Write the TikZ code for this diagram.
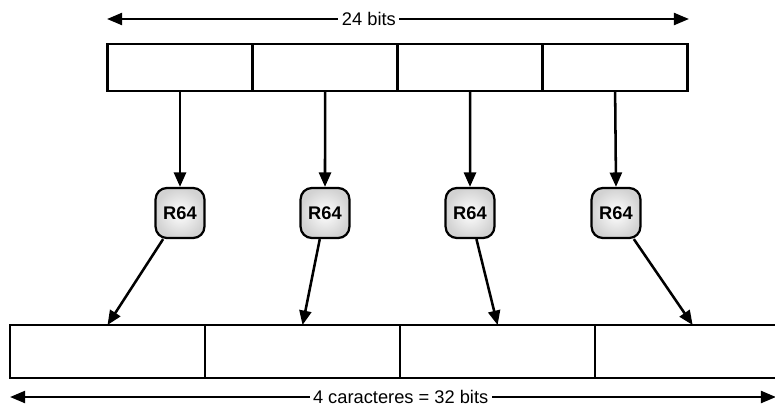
\documentclass[tikz,border=0pt]{standalone}
\usepackage{fontspec}
\setmainfont{Liberation Sans}
\usepackage{tikz}
\usetikzlibrary{arrows.meta,positioning,shadings}

\begin{document}
\begin{tikzpicture}[
    x=0.025cm,y=-0.025cm,
    every node/.style={font=\fontsize{13}{15}\selectfont},
    inbox/.style={draw,line width=1.8pt,minimum width=3.625cm,minimum height=1.175cm,outer sep=0pt,inner sep=0pt},
    outbox/.style={draw,line width=1.8pt,minimum width=4.875cm,minimum height=1.325cm,outer sep=0pt,inner sep=0pt},
    rbox/.style={draw,line width=1.6pt,rounded corners=8pt,minimum width=1.22cm,minimum height=1.25cm,
                 inner color=white,outer color=gray!35,font=\fontsize{13}{15}\selectfont\bfseries},
    arr/.style={-{Triangle[length=3.6mm,width=3mm]},line width=1.8pt},
    dim/.style={{Triangle[length=3.8mm,width=3mm]}-{Triangle[length=3.8mm,width=3mm]},line width=1.8pt},
    lbl/.style={fill=white,inner sep=2.5pt}
]
\useasboundingbox (0,0) rectangle (775,410);

% Row 1: the 24 input bits
\node[inbox] (t1) at (180,67.5) {};
\node[inbox,right=0pt of t1] (t2) {};
\node[inbox,right=0pt of t2] (t3) {};
\node[inbox,right=0pt of t3] (t4) {};

% Row 2: the R64 mappings
\node[rbox] (r1) at (180,213) {R64};
\node[rbox] (r2) at (325,213) {R64};
\node[rbox] (r3) at (470,213) {R64};
\node[rbox] (r4) at (616,213) {R64};

% Row 3: the 4 output characters
\node[outbox] (b1) at (107.5,351.5) {};
\node[outbox,right=0pt of b1] (b2) {};
\node[outbox,right=0pt of b2] (b3) {};
\node[outbox,right=0pt of b3] (b4) {};

\foreach \i in {1,...,4}{
  \draw[arr] (t\i.south) -- (r\i.north);
  \draw[arr] (r\i) -- (b\i.north);
}

% Widths
\coordinate (topL) at (107,19);
\coordinate (topR) at (689,19);
\coordinate (botL) at (10,397);
\coordinate (botR) at (776,397);
\draw[dim] (topL) -- node[lbl,pos=0.45]{24 bits} (topR);
\draw[dim] (botL) -- node[lbl,pos=0.51]{4 caracteres = 32 bits} (botR);
\end{tikzpicture}
\end{document}
